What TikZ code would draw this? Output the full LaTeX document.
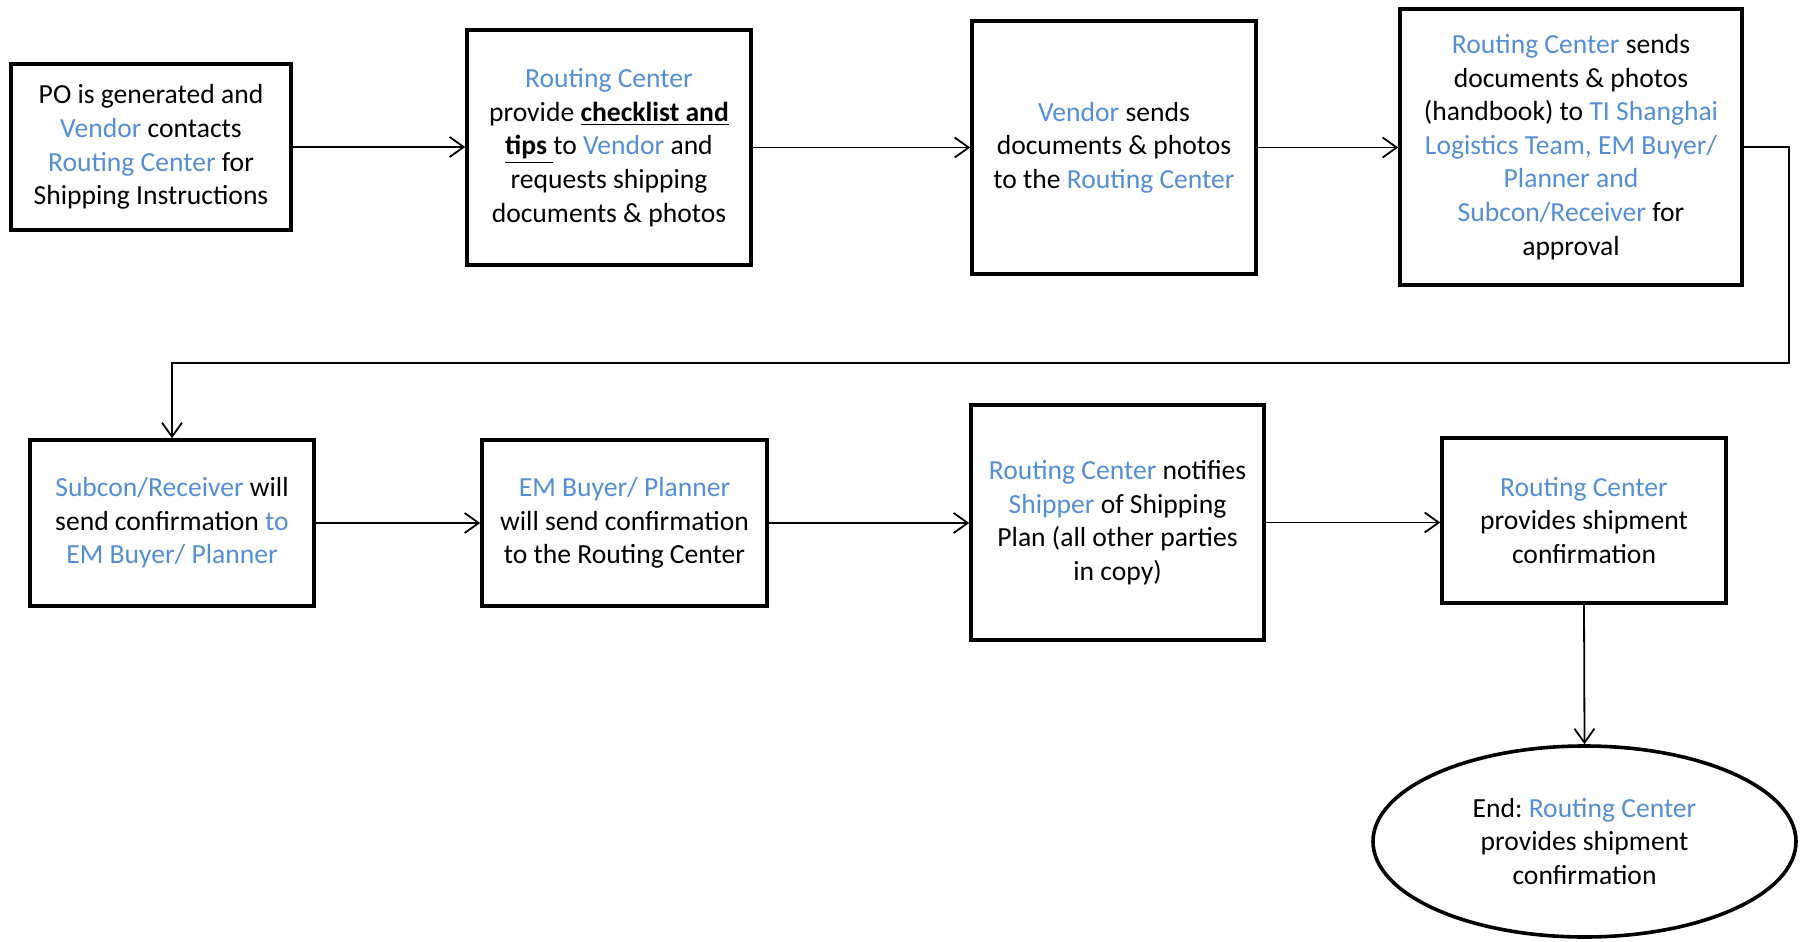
\documentclass[tikz,border=0pt]{standalone}
\usepackage{fontspec}
\setmainfont{Carlito}
\usetikzlibrary{arrows.meta,shapes.geometric}
\definecolor{rcblue}{HTML}{558ED5}
\newcommand{\bl}[1]{\textcolor{rcblue}{#1}}
\frenchspacing
\begin{document}
\begin{tikzpicture}[x=0.5pt,y=-0.5pt,
  box/.style={draw,line width=1.8pt,align=center,inner sep=0pt,
    font=\fontsize{13.8}{16.8}\selectfont},
  conn/.style={line width=0.9pt,-{Straight Barb[length=7pt,width=10pt,line width=0.9pt]}}]
\useasboundingbox (0,0) rectangle (1800,942);
\node[box,minimum width=140pt,minimum height=83pt] (b1) at (151,147) {PO is generated and\\ \bl{Vendor} contacts\\ \bl{Routing Center} for\\ Shipping Instructions};
\node[box,minimum width=142pt,minimum height=117.5pt] (b2) at (609,147.5) {\bl{Routing Center}\\ provide \underline{\textbf{checklist and}}\\ \underline{\textbf{tips}\ }to \bl{Vendor} and\\ requests shipping\\ documents \& photos};
\node[box,minimum width=142pt,minimum height=126.5pt] (b3) at (1114,147.5) {\bl{Vendor} sends\\ documents \& photos\\ to the \bl{Routing Center}};
\node[box,minimum width=171pt,minimum height=138pt] (b4) at (1571,147) {\bl{Routing Center} sends\\ documents \& photos\\ (handbook) to \bl{TI Shanghai}\\ \bl{Logistics Team, EM Buyer/}\\ \bl{Planner and}\\ \bl{Subcon/Receiver} for\\ approval};
\node[box,minimum width=142pt,minimum height=83pt] (b5) at (172,523) {\bl{Subcon/Receiver} will\\ send confirmation \bl{to}\\ \bl{EM Buyer/ Planner}};
\node[box,minimum width=142.5pt,minimum height=83pt] (b6) at (624.5,523) {\bl{EM Buyer/ Planner}\\ will send confirmation\\ to the Routing Center};
\node[box,minimum width=146.5pt,minimum height=117.5pt] (b7) at (1117.5,522.5) {\bl{Routing Center} notifies\\ \bl{Shipper} of Shipping\\ Plan (all other parties\\ in copy)};
\node[box,minimum width=142pt,minimum height=82.5pt] (b8) at (1584,520.5) {\bl{Routing Center}\\ provides shipment\\ confirmation};
\node[box,ellipse,minimum width=211.5pt,minimum height=95.5pt] (end) at (1584.5,841.5) {End: \bl{Routing Center}\\ provides shipment\\ confirmation};
\coordinate (c1) at (1789,363);
\draw[conn] (b1.east) -- (b1.east -| b2.west);
\draw[conn] (b2.east) -- (b2.east -| b3.west);
\draw[conn] (b3.east) -- (b3.east -| b4.west);
\draw[conn] (b4.east) -| (c1) -| (b5.north);
\draw[conn] (b5.east) -- (b5.east -| b6.west);
\draw[conn] (b6.east) -- (b6.east -| b7.west);
\draw[conn] (b7.east) -- (b7.east -| b8.west);
\draw[conn] (b8.south) -- (end.north);
\end{tikzpicture}
\end{document}
